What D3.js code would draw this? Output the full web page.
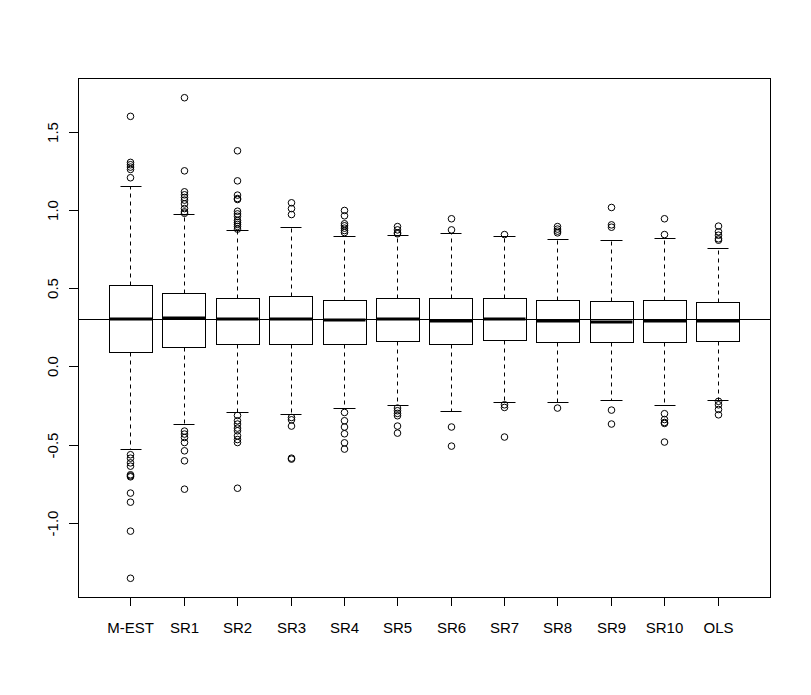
<!DOCTYPE html>
<html>
<head>
<meta charset="utf-8">
<script src="https://cdn.jsdelivr.net/npm/d3@7"></script>
<style>
  html, body { margin: 0; padding: 0; background: #fff; }
  svg { display: block; }
  text { font-family: "Liberation Sans", Arial, sans-serif; fill: #000; }
</style>
</head>
<body>
<div id="chart"></div>
<script>
  // values
  var categories = ['M-EST', 'SR1', 'SR2', 'SR3', 'SR4', 'SR5', 'SR6', 'SR7', 'SR8', 'SR9', 'SR10', 'OLS'];
  var lowerWhisker = [-0.529, -0.365, -0.293, -0.306, -0.263, -0.244, -0.282, -0.229, -0.229, -0.212, -0.244, -0.212];
  var q1 = [0.089, 0.127, 0.140, 0.140, 0.146, 0.159, 0.140, 0.166, 0.153, 0.153, 0.153, 0.159];
  var medians = [0.300, 0.310, 0.300, 0.300, 0.295, 0.300, 0.289, 0.300, 0.293, 0.281, 0.293, 0.289];
  var q3 = [0.517, 0.466, 0.434, 0.447, 0.421, 0.434, 0.434, 0.434, 0.421, 0.415, 0.421, 0.409];
  var upperWhisker = [1.150, 0.971, 0.869, 0.890, 0.833, 0.837, 0.850, 0.833, 0.813, 0.805, 0.818, 0.754];
  var outliers = [
    [1.600, 1.306, 1.291, 1.276, 1.261, 1.208, -0.561, -0.583, -0.613, -0.634, -0.689, -0.696, -0.702, -0.806, -0.864, -1.049, -1.350],
    [1.719, 1.252, 1.118, 1.099, 1.082, 1.065, 1.041, 1.011, 0.990, 0.981, -0.410, -0.429, -0.451, -0.483, -0.536, -0.600, -0.781],
    [1.380, 1.188, 1.097, 1.075, 1.069, 0.994, 0.977, 0.962, 0.935, 0.922, 0.910, 0.897, 0.880, -0.310, -0.344, -0.365, -0.391, -0.408, -0.440, -0.464, -0.483, -0.775],
    [1.048, 1.011, 0.973, -0.323, -0.338, -0.378, -0.583, -0.589],
    [0.999, 0.965, 0.914, 0.901, 0.886, 0.871, 0.858, -0.291, -0.344, -0.384, -0.427, -0.485, -0.525],
    [0.896, 0.875, 0.856, 0.850, -0.263, -0.280, -0.297, -0.312, -0.378, -0.423],
    [0.946, 0.875, -0.384, -0.506],
    [0.845, -0.242, -0.259, -0.448],
    [0.896, 0.880, 0.867, 0.856, -0.263],
    [1.018, 0.907, 0.892, -0.276, -0.365],
    [0.946, 0.845, -0.299, -0.336, -0.355, -0.361, -0.480],
    [0.899, 0.863, 0.841, 0.818, 0.809, -0.220, -0.242, -0.272, -0.306]
  ];
  var yTicks = [-1.0, -0.5, 0.0, 0.5, 1.0, 1.5];
  var refLine = 0.3;

  (function() {
    var width = 811, height = 695;
    var mLeft = 78, mRight = 770, mTop = 78, mBottom = 597;
    var n = categories.length;

    var all = d3.merge(outliers.concat([lowerWhisker, upperWhisker]));
    var lo = d3.min(all), hi = d3.max(all), pad = (hi - lo) * 0.04;

    var x = d3.scaleLinear().domain([0.5 - n * 0.04, n + 0.5 + n * 0.04]).range([mLeft, mRight]);
    var y = d3.scaleLinear().domain([lo - pad, hi + pad]).range([mBottom, mTop]);
    var boxW = x(0.8) - x(0), capW = boxW / 2;

    var boxes = categories.map(function(c, i) {
      return {
        name: c, pos: i + 1, lw: lowerWhisker[i], q1: q1[i], med: medians[i],
        q3: q3[i], uw: upperWhisker[i], out: outliers[i]
      };
    });

    var svg = d3.select('#chart').append('svg').attr('width', width).attr('height', height);
    var g = svg.append('g').attr('transform', 'translate(0.5,0.5)');

    var b = g.selectAll('g.box').data(boxes).enter().append('g').attr('class', 'box');
    var cx = function(d) { return Math.round(x(d.pos)); };

    // dashed whiskers
    b.append('line').attr('x1', cx).attr('x2', cx)
      .attr('y1', function(d) { return Math.round(y(d.q3)); })
      .attr('y2', function(d) { return Math.round(y(d.uw)); })
      .attr('stroke', '#000').attr('stroke-dasharray', '4,4');
    b.append('line').attr('x1', cx).attr('x2', cx)
      .attr('y1', function(d) { return Math.round(y(d.q1)); })
      .attr('y2', function(d) { return Math.round(y(d.lw)); })
      .attr('stroke', '#000').attr('stroke-dasharray', '4,4');

    // staples
    ['uw', 'lw'].forEach(function(k) {
      b.append('line')
        .attr('x1', function(d) { return Math.round(x(d.pos) - capW / 2); })
        .attr('x2', function(d) { return Math.round(x(d.pos) + capW / 2); })
        .attr('y1', function(d) { return Math.round(y(d[k])); })
        .attr('y2', function(d) { return Math.round(y(d[k])); })
        .attr('stroke', '#000');
    });

    // boxes
    b.append('rect')
      .attr('x', function(d) { return Math.round(x(d.pos) - boxW / 2); })
      .attr('y', function(d) { return Math.round(y(d.q3)); })
      .attr('width', Math.round(boxW))
      .attr('height', function(d) { return Math.round(y(d.q1)) - Math.round(y(d.q3)); })
      .attr('fill', 'none').attr('stroke', '#000');

    // medians
    b.append('line')
      .attr('x1', function(d) { return Math.round(x(d.pos) - boxW / 2); })
      .attr('x2', function(d) { return Math.round(x(d.pos) + boxW / 2); })
      .attr('y1', function(d) { return Math.round(y(d.med)) - 0.5; })
      .attr('y2', function(d) { return Math.round(y(d.med)) - 0.5; })
      .attr('stroke', '#000').attr('stroke-width', 3);

    // outliers
    b.selectAll('circle').data(function(d) {
      return d.out.map(function(v) { return { pos: d.pos, v: v }; });
    }).enter().append('circle')
      .attr('cx', function(d) { return Math.round(x(d.pos)); })
      .attr('cy', function(d) { return y(d.v); })
      .attr('r', 3.3)
      .attr('fill', 'none').attr('stroke', '#000');

    // reference line
    g.append('line').attr('x1', mLeft).attr('x2', mRight)
      .attr('y1', Math.round(y(refLine))).attr('y2', Math.round(y(refLine)))
      .attr('stroke', '#000');

    // axes
    var yAxis = d3.axisLeft(y).tickValues(yTicks).tickSize(9).tickSizeOuter(0)
      .tickFormat(function(d) { return d.toFixed(1); });
    var yg = svg.append('g').attr('transform', 'translate(' + mLeft + ',0)').call(yAxis);
    yg.select('.domain').remove();
    yg.selectAll('.tick').attr('transform', function(d) { return 'translate(0,' + (Math.round(y(d)) + 0.5) + ')'; });
    yg.selectAll('.tick line').attr('stroke', '#000');
    yg.selectAll('.tick text').attr('x', null).attr('dy', null)
      .attr('transform', 'translate(-20,0) rotate(-90)')
      .attr('text-anchor', 'middle').attr('font-size', 15)
      .attr('font-family', '"Liberation Sans", Arial, sans-serif');

    var xAxis = d3.axisBottom(x).tickValues(d3.range(1, n + 1)).tickSize(9).tickSizeOuter(0)
      .tickFormat(function(d) { return categories[d - 1]; });
    var xg = svg.append('g').attr('transform', 'translate(0,' + mBottom + ')').call(xAxis);
    xg.select('.domain').remove();
    xg.selectAll('.tick').attr('transform', function(d) { return 'translate(' + (Math.round(x(d)) + 0.5) + ',0)'; });
    xg.selectAll('.tick line').attr('stroke', '#000');
    xg.selectAll('.tick text').attr('y', 36).attr('dy', null)
      .attr('font-size', 15).attr('font-family', '"Liberation Sans", Arial, sans-serif');

    // plot frame
    g.append('rect').attr('x', mLeft).attr('y', mTop)
      .attr('width', mRight - mLeft).attr('height', mBottom - mTop)
      .attr('fill', 'none').attr('stroke', '#000');
  })();
</script>
</body>
</html>
